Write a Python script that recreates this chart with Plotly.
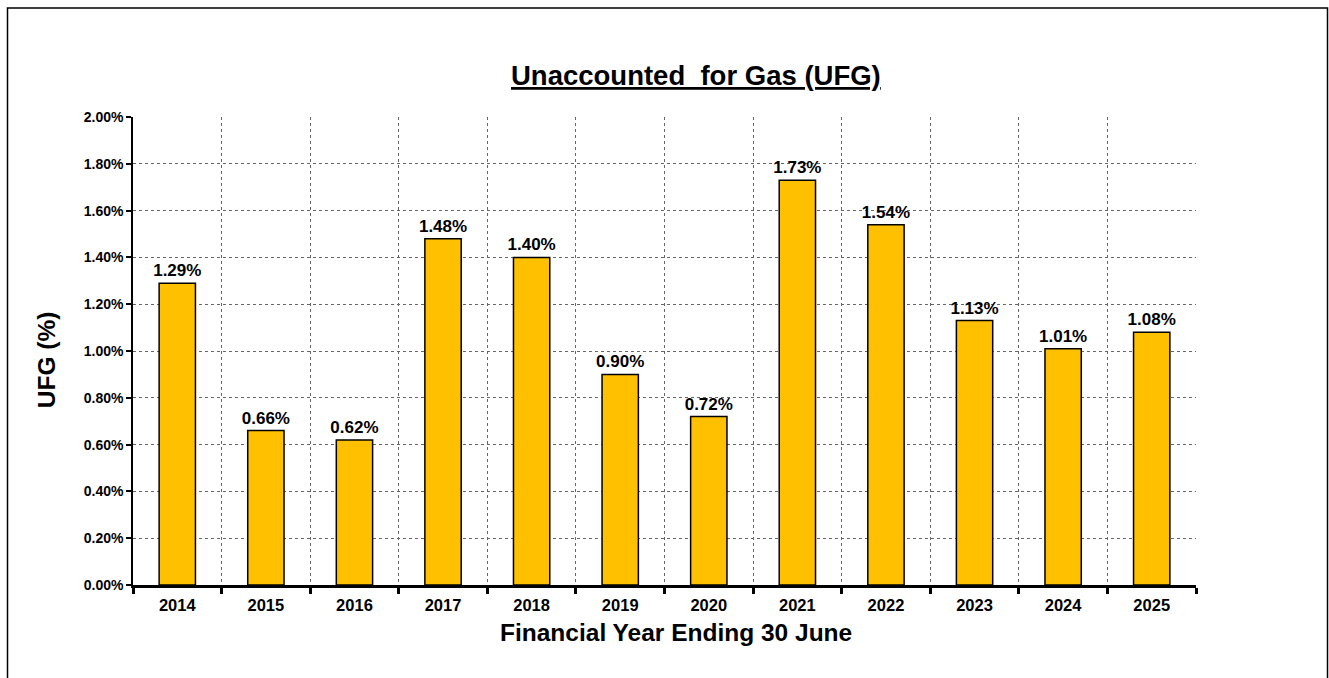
import plotly.graph_objects as go

years = ["2014", "2015", "2016", "2017", "2018", "2019", "2020", "2021", "2022", "2023", "2024", "2025"]
ufg = [1.29, 0.66, 0.62, 1.48, 1.40, 0.90, 0.72, 1.73, 1.54, 1.13, 1.01, 1.08]
y_ticks = [0.0, 0.2, 0.4, 0.6, 0.8, 1.0, 1.2, 1.4, 1.6, 1.8, 2.0]
y_tick_text = [f"{v:.2f}%" for v in y_ticks]

W, H = 1329, 678
L, R, T, B = 133, 133, 116.5, 93
pw, ph = W - L - R, H - T - B

def px(x):
    return (x - L) / pw

def py(y):
    return (H - B - y) / ph

FONT = "Liberation Sans, Arial, sans-serif"

fig = go.Figure(go.Bar(
    x=years, y=ufg,
    marker=dict(color="#FFC000", line=dict(color="black", width=1.5)),
    texttemplate="<b>%{y:.2f}%</b>", textposition="outside",
    constraintext="none",
    textfont=dict(family=FONT, size=17, color="black"),
    cliponaxis=False,
))

fig.update_layout(
    width=W, height=H, autosize=False,
    margin=dict(l=L, r=R, t=T, b=B, pad=0),
    paper_bgcolor="white", plot_bgcolor="white",
    bargap=0.59, showlegend=False,
    font=dict(family=FONT, color="black"),
    xaxis=dict(
        type="category", tickson="boundaries",
        showgrid=True, gridcolor="#666", griddash="dot", gridwidth=1,
        showline=True, linecolor="black", linewidth=3,
        ticks="outside", ticklen=6, tickwidth=3, tickcolor="black",
        ticklabelstandoff=3,
        tickfont=dict(family=FONT, size=16.5, color="black", weight="bold"),
        zeroline=False,
    ),
    yaxis=dict(
        range=[0, 2.0], tickvals=y_ticks, ticktext=y_tick_text,
        showgrid=True, gridcolor="#666", griddash="dot", gridwidth=1,
        showline=True, linecolor="black", linewidth=1.5,
        ticks="outside", ticklen=5, tickwidth=1.5, tickcolor="black",
        tickfont=dict(family=FONT, size=14, color="black", weight="bold"),
        zeroline=False,
    ),
    annotations=[
        dict(text="<b><u>Unaccounted  for Gas (UFG)</u></b>", xref="paper", yref="paper",
             x=px(696), y=py(75), showarrow=False, xanchor="center", yanchor="middle",
             font=dict(family=FONT, size=27.5, color="black")),
        dict(text="<b>Financial Year Ending 30 June</b>", xref="paper", yref="paper",
             x=px(676), y=py(633), showarrow=False, xanchor="center", yanchor="middle",
             font=dict(family=FONT, size=24.5, color="black")),
        dict(text="<b>UFG (%)</b>", xref="paper", yref="paper", textangle=-90,
             x=px(46), y=py(360), showarrow=False, xanchor="center", yanchor="middle",
             font=dict(family=FONT, size=24.5, color="black")),
    ],
    shapes=[
        dict(type="rect", xref="paper", yref="paper",
             x0=px(7.5), x1=px(1327.5), y0=py(700), y1=py(7.5),
             line=dict(color="black", width=1.5), fillcolor="rgba(0,0,0,0)", layer="above"),
    ],
)

fig.write_html("out.html", config={"displayModeBar": False},
               post_script="document.body.style.margin='0';document.body.style.overflow='hidden';")
